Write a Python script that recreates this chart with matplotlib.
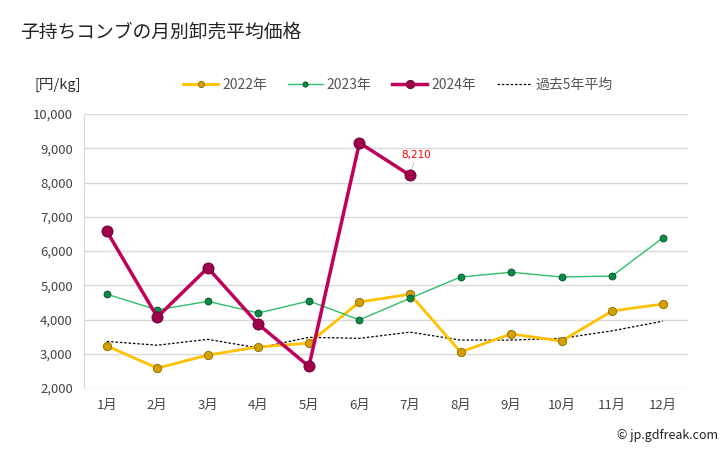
import numpy as np
from matplotlib import pyplot as plt

plt.rcParams['font.family'] = ['Noto Sans CJK JP', 'DejaVu Sans']

months = ['1月', '2月', '3月', '4月', '5月', '6月', '7月', '8月', '9月', '10月', '11月', '12月']
price_2022 = [3230, 2580, 2960, 3200, 3310, 4510, 4740, 3050, 3580, 3370, 4250, 4450]
price_2023 = [4740, 4280, 4530, 4190, 4540, 3990, 4620, 5240, 5380, 5240, 5270, 6380]
price_2024 = [6580, 4070, 5510, 3860, 2630, 9160, 8210]
avg_5yr = [3360, 3250, 3420, 3170, 3480, 3450, 3630, 3400, 3400, 3450, 3670, 3950]


def fmt_thousands(v, _):
    return f'{int(v):,}'


fig = plt.figure(figsize=(7.28, 4.5), dpi=100)
ax = fig.add_axes([84 / 728, 1 - 388 / 450, 604 / 728, 274 / 450])

xx = np.arange(1, len(months) + 1)

ax.plot(xx, avg_5yr, color='black', lw=0.9, ls=(0, (2, 1.5)), label='過去5年平均', zorder=2)
ax.plot(xx, price_2022, color='#ffc000', lw=2, marker='o', ms=6,
        mfc='#d4a000', mec='#8a6a00', mew=0.6, label='2022年', zorder=3)
ax.plot(xx, price_2023, color='#2fbf6a', lw=1, marker='o', ms=5,
        mfc='#0a8a44', mec='#05502a', mew=0.6, label='2023年', zorder=4)
ax.plot(xx[:len(price_2024)], price_2024, color='#c0005a', lw=2.5, marker='o', ms=8,
        mfc='#a0004a', mec='#600030', mew=0.6, label='2024年', zorder=5)

last = len(price_2024)
ax.annotate(f'{price_2024[-1]:,}', xy=(last, price_2024[-1]), xytext=(last + 0.12, price_2024[-1] + 450),
            color='red', fontsize=7.5, ha='center', va='bottom', family='DejaVu Sans',
            arrowprops=dict(arrowstyle='-', color='#bbbbbb', lw=0.6, shrinkA=0, shrinkB=3))

ax.set_xlim(0.55, 12.5)
ax.set_ylim(2000, 10000)
ax.set_xticks(xx)
ax.set_xticklabels(months)
ax.set_yticks(np.arange(2000, 10001, 1000))
ax.yaxis.set_major_formatter(plt.FuncFormatter(fmt_thousands))
ax.grid(axis='y', color='#d9d9d9', lw=1)
ax.set_axisbelow(True)
for s in ['top', 'right', 'bottom']:
    ax.spines[s].set_visible(False)
ax.spines['left'].set_color('#e0d8c0')
ax.tick_params(axis='both', length=0, labelsize=9.5, colors='#444444', pad=8)

fig.text(20 / 728, 1 - 32 / 450, '子持ちコンブの月別卸売平均価格', fontsize=13.5, va='center', color='#222222')
fig.text(35 / 728, 1 - 85 / 450, '[円/kg]', fontsize=10.5, va='center', color='#333333')
fig.text(718 / 728, 1 - 436 / 450, '© jp.gdfreak.com', fontsize=9, ha='right', va='center', color='#222222')

handles, labels = ax.get_legend_handles_labels()
order = [1, 2, 3, 0]
fig.legend([handles[i] for i in order], [labels[i] for i in order],
           loc='center', bbox_to_anchor=(398 / 728, 1 - 85 / 450), ncol=4, frameon=False,
           fontsize=10, labelcolor='#555555', handlelength=2.5, columnspacing=1.5, handletextpad=0.3,
           markerscale=0.75)

fig.savefig('out.png', dpi=100)
